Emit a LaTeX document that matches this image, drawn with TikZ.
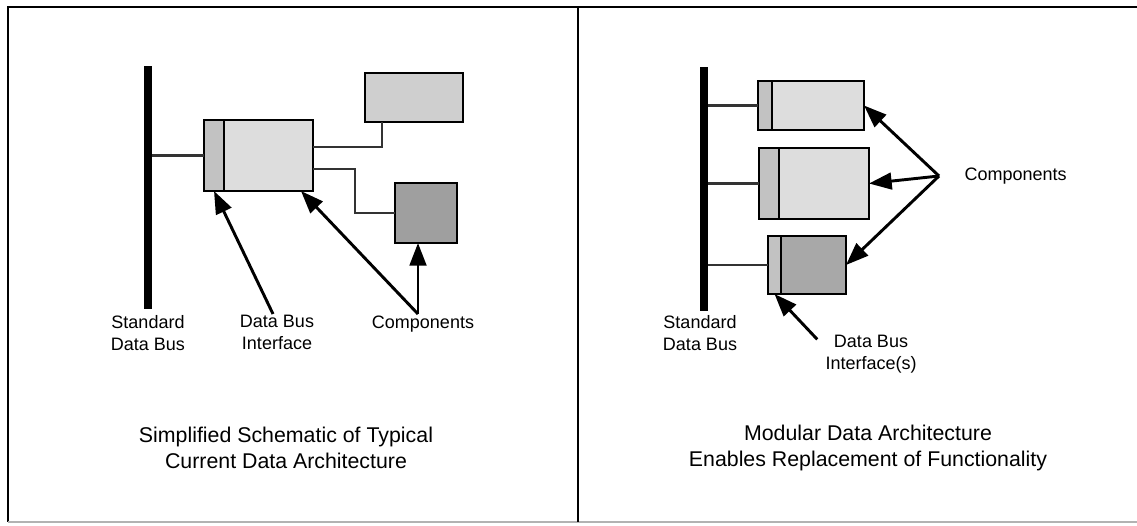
\documentclass[tikz,border=0pt]{standalone}
\usepackage{fontspec}
\setmainfont{Liberation Sans}
\usetikzlibrary{arrows.meta, positioning}

\begin{document}
\begin{tikzpicture}[
    x=0.75pt, y=-0.75pt,
    bus/.style={fill=black, draw=none, minimum width=6pt, inner sep=0pt},
    ifc/.style={draw=black, line width=2.2pt, fill=gray!48,
        inner sep=0pt, outer sep=0pt},
    comp/.style={draw=black, line width=2.2pt, fill=gray!27,
        inner sep=0pt, outer sep=0pt},
    wire/.style={gray!40!black, line width=1.8pt},
    arr/.style={-{Triangle[length=17pt, width=12.5pt]}, line width=2.2pt},
    lbl/.style={font=\fontsize{13.5}{16.5}\selectfont, align=center,
        inner sep=1pt, anchor=north},
    captext/.style={font=\fontsize{16}{19.5}\selectfont, align=center}
  ]
  \useasboundingbox (0,0) rectangle (1137,525);
  % frame
  \draw[line width=1.5pt] (1137,7) -- (8,7) -- (8,522);
  \draw[line width=1pt, gray!60] (8,522) -- (1137,522);
  \draw[line width=2pt] (578,7) -- (578,522);

  % left: current architecture
  \node[bus, minimum height=182pt] (busL) at (148,187.5) {};
  \node[ifc, minimum width=15pt, minimum height=53.25pt] (ifcL) at (214,155.5) {};
  \node[comp, minimum width=66.75pt, minimum height=53.25pt, right=0pt of ifcL] (bodyL) {};
  \node[comp, fill=gray!38, minimum width=73.5pt, minimum height=36.75pt] (topL) at (414,97.5) {};
  \node[comp, fill=gray!75, minimum width=46.5pt, minimum height=45pt] (darkL) at (426,213) {};
  \draw[wire] (busL.east |- ifcL.west) -- (ifcL.west);
  \draw[wire] ([yshift=6.4pt]bodyL.east) -| ([xshift=-24pt]topL.south);
  \draw[wire] ([yshift=-10pt]bodyL.east) -- ++(31.5pt,0) |- (darkL.west);

  \node[lbl] (sdbL) at (148,314) {Standard\\Data Bus};
  \node[lbl] (dbiL) at (277,314) {Data Bus\\Interface};
  \node[lbl] (cmpL) at (423,314) {Components};
  \coordinate (hubL) at ([xshift=-3.75pt]cmpL.north);
  \draw[arr] ([xshift=-3pt]dbiL.north) -- (ifcL.south);
  \draw[arr] (hubL) -- ([xshift=-9pt]bodyL.south east);
  \draw[arr] (hubL) -- (hubL |- darkL.south);
  \node[captext] (capL) at (286,448) {Simplified Schematic of Typical\\Current Data Architecture};

  % right: modular architecture
  \node[bus, minimum height=183pt] (busR) at (704,189) {};
  \node[ifc, minimum width=10.5pt, minimum height=36.75pt] (ifcA) at (765,105.5) {};
  \node[comp, minimum width=69pt, minimum height=36.75pt, right=0pt of ifcA] (bodyA) {};
  \node[ifc, minimum width=15pt, minimum height=53.25pt] (ifcB) at (769,183.5) {};
  \node[comp, minimum width=67.5pt, minimum height=53.25pt, right=0pt of ifcB] (bodyB) {};
  \node[ifc, minimum width=9.75pt, minimum height=43.5pt] (ifcC) at (774.5,265) {};
  \node[comp, fill=gray!68, minimum width=48.75pt, minimum height=43.5pt, right=0pt of ifcC] (bodyC) {};
  \draw[wire] (busR.east |- ifcA.west) -- (ifcA.west);
  \draw[wire] (busR.east |- ifcB.west) -- (ifcB.west);
  \draw[wire] (busR.east |- ifcC.west) -- (ifcC.west);

  \node[lbl] (sdbR) at (700,314) {Standard\\Data Bus};
  \node[lbl] (dbiR) at (871,334) {Data Bus\\Interface(s)};
  \node[lbl, anchor=west] (cmpR) at (963,176) {Components};
  \coordinate (hubR) at ([xshift=-18pt]cmpR.west);
  \draw[arr] (hubR) -- (bodyA.east);
  \draw[arr] (hubR) -- (bodyB.east);
  \draw[arr] (hubR) -- (bodyC.east);
  \draw[arr] ([xshift=-5pt, yshift=-4pt]dbiR.north west) -- (ifcC.south);
  \node[captext] (capR) at (868,448) {Modular Data Architecture\\Enables Replacement of Functionality};
\end{tikzpicture}
\end{document}
